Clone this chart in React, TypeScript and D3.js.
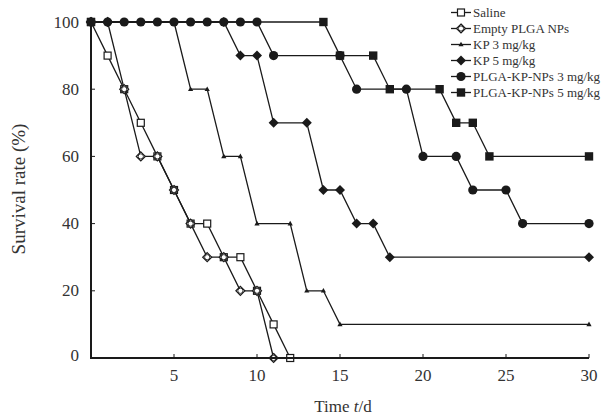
import React from "react";
import * as d3 from "d3";

const W = 605;
const H = 415;

const xTicks = [5, 10, 15, 20, 25, 30];
const yTicks = [0, 20, 40, 60, 80, 100];

const seriesNames = [
  "Saline",
  "Empty PLGA NPs",
  "KP 3 mg/kg",
  "KP 5 mg/kg",
  "PLGA-KP-NPs 3 mg/kg",
  "PLGA-KP-NPs 5 mg/kg",
];

const saline: [number, number][] = [
  [0, 100], [1, 90], [2, 80], [3, 70], [4, 60], [5, 50], [6, 40], [7, 40],
  [8, 30], [9, 30], [10, 20], [11, 10], [12, 0],
];
const emptyPlga: [number, number][] = [
  [0, 100], [1, 100], [2, 80], [3, 60], [4, 60], [5, 50], [6, 40], [7, 30],
  [8, 30], [9, 20], [10, 20], [11, 0],
];
const kp3: [number, number][] = [
  [0, 100], [5, 100], [6, 80], [7, 80], [8, 60], [9, 60], [10, 40], [12, 40],
  [13, 20], [14, 20], [15, 10], [30, 10],
];
const kp5: [number, number][] = [
  [0, 100], [8, 100], [9, 90], [10, 90], [11, 70], [13, 70], [14, 50], [15, 50],
  [16, 40], [17, 40], [18, 30], [30, 30],
];
const plga3: [number, number][] = [
  [0, 100], [1, 100], [2, 100], [3, 100], [4, 100], [5, 100], [6, 100], [7, 100],
  [8, 100], [9, 100], [10, 100], [11, 90], [15, 90], [16, 80], [19, 80],
  [20, 60], [22, 60], [23, 50], [25, 50], [26, 40], [30, 40],
];
const plga5: [number, number][] = [
  [0, 100], [14, 100], [15, 90], [17, 90], [18, 80], [21, 80], [22, 70],
  [23, 70], [24, 60], [30, 60],
];

const allSeries = [saline, emptyPlga, kp3, kp5, plga3, plga5];
const markerTypes = ["openSquare", "openDiamond", "triangle", "diamond", "circle", "square"];

const INK = "#1a1a1a";

function Marker({ type, x, y }: { type: string; x: number; y: number }) {
  switch (type) {
    case "openSquare":
      return <rect x={x - 3.5} y={y - 3.5} width={7} height={7} fill="#fff" stroke={INK} strokeWidth={1.2} />;
    case "openDiamond":
      return (
        <g>
          <path d={`M${x},${y - 4.5}L${x + 4.5},${y}L${x},${y + 4.5}L${x - 4.5},${y}Z`} fill="#fff" stroke={INK} strokeWidth={1.2} />
          <circle cx={x} cy={y} r={2.6} fill="none" stroke={INK} strokeWidth={0.9} />
        </g>
      );
    case "triangle":
      return <path d={`M${x},${y - 2.8}L${x + 2.6},${y + 1.8}L${x - 2.6},${y + 1.8}Z`} fill={INK} />;
    case "diamond":
      return <path d={`M${x},${y - 5}L${x + 5},${y}L${x},${y + 5}L${x - 5},${y}Z`} fill={INK} />;
    case "circle":
      return <circle cx={x} cy={y} r={4.6} fill={INK} />;
    case "square":
      return <rect x={x - 4.2} y={y - 4.2} width={8.4} height={8.4} fill={INK} />;
    default:
      return null;
  }
}

export default function App() {
  const x = d3.scaleLinear().domain([0, 30]).range([91, 589]);
  const y = d3.scaleLinear().domain([0, 100]).range([358, 22]);
  const line = d3
    .line<[number, number]>()
    .x((d) => x(d[0]))
    .y((d) => y(d[1]));

  const font = "'Liberation Serif', 'Times New Roman', serif";

  return (
    <svg
      width={W}
      height={H}
      style={{ position: "absolute", left: 0, top: 0, background: "#fff" }}
      fontFamily={font}
    >
      <rect x={0} y={0} width={W} height={H} fill="#fff" />

      {yTicks.map((t) => (
        <line key={"yt" + t} x1={x(0)} x2={x(0) + 4} y1={y(t)} y2={y(t)} stroke={INK} strokeWidth={1} />
      ))}
      {xTicks.map((t) => (
        <line key={"xt" + t} x1={x(t)} x2={x(t)} y1={y(0)} y2={y(0) - 4} stroke={INK} strokeWidth={1} />
      ))}

      {allSeries.map((s, i) => (
        <path key={"l" + i} d={line(s) || ""} fill="none" stroke={INK} strokeWidth={1.3} />
      ))}
      {allSeries.map((s, i) =>
        s.map((d, j) => <Marker key={`m${i}-${j}`} type={markerTypes[i]} x={x(d[0])} y={y(d[1])} />)
      )}

      <line x1={x(0)} x2={x(0)} y1={y(100)} y2={y(0) + 1} stroke={INK} strokeWidth={2} />
      <line x1={x(0) - 1} x2={x(30)} y1={y(0)} y2={y(0)} stroke={INK} strokeWidth={2} />

      {yTicks.map((t) => (
        <text key={"yl" + t} x={79} y={y(t) + 5.5 - (t === 0 ? 3 : 0)} textAnchor="end" fontSize={17} fill="#333">
          {t}
        </text>
      ))}
      {xTicks.map((t) => (
        <text key={"xl" + t} x={x(t)} y={381} textAnchor="middle" fontSize={17} fill="#333">
          {t}
        </text>
      ))}

      <text x={343} y={412} textAnchor="middle" fontSize={17} fill="#333">
        Time <tspan fontStyle="italic">t</tspan>/d
      </text>
      <text
        transform={`translate(25,189) rotate(-90)`}
        textAnchor="middle"
        fontSize={19}
        fill="#333"
      >
        Survival rate (%)
      </text>

      {seriesNames.map((name, i) => {
        const ly = 12.5 + i * 16;
        return (
          <g key={"lg" + i}>
            <line x1={451} x2={471} y1={ly} y2={ly} stroke={INK} strokeWidth={1.3} />
            <Marker type={markerTypes[i]} x={461} y={ly} />
            <text x={473} y={ly + 4.5} fontSize={13} fill="#333">
              {name}
            </text>
          </g>
        );
      })}
    </svg>
  );
}
